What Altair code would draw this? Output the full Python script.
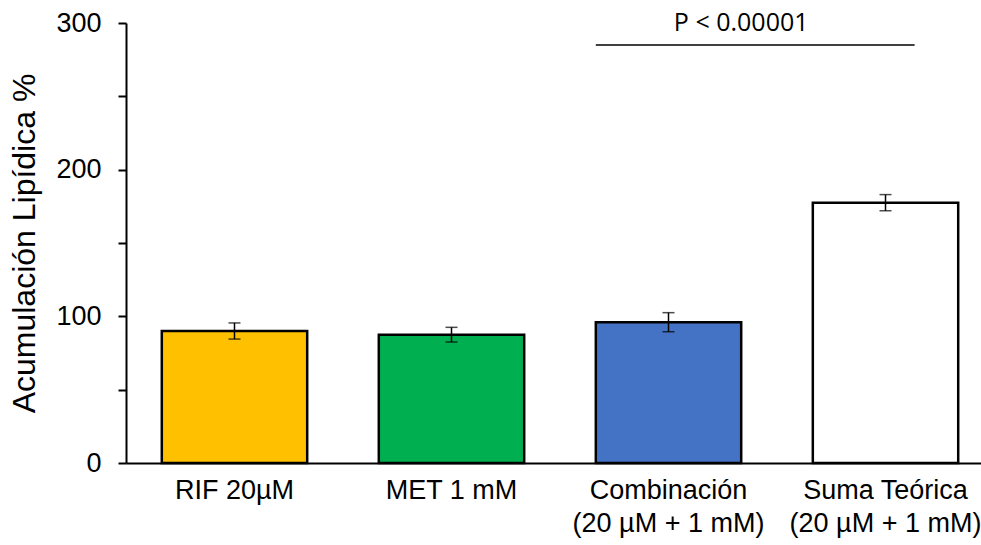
import altair as alt
import pandas as pd

# Treatment groups (label lines separated by "|")
categories = [
    "RIF 20µM",
    "MET 1 mM",
    "Combinación|(20 µM + 1 mM)",
    "Suma Teórica|(20 µM + 1 mM)",
]
means = [90, 87.5, 96, 177.5]
errors = [5.5, 5, 6.5, 5.5]
fills = ["#FFC000", "#00B050", "#4472C4", "#FFFFFF"]

# Significance bracket between the combination and the theoretical sum
sig_from = categories[2]
sig_to = categories[3]
sig_level = 285
sig_text = "P < 0.00001"

df = pd.DataFrame({
    "grupo": categories,
    "media": means,
    "lo": [m - e for m, e in zip(means, errors)],
    "hi": [m + e for m, e in zip(means, errors)],
    "color": fills,
})
sig_df = pd.DataFrame({"a": [sig_from], "b": [sig_to], "y": [sig_level], "t": [sig_text]})

x_scale = alt.Scale(domain=categories, paddingInner=0.33, paddingOuter=0.135, align=0.611)
y_scale = alt.Scale(domain=[0, 300], nice=False)

x_enc = alt.X(
    "grupo:N",
    scale=x_scale,
    sort=categories,
    axis=alt.Axis(
        title=None,
        labelAngle=0,
        labelExpr="split(datum.label, '|')",
        labelFont="Liberation Sans",
        labelFontSize=27,
        labelColor="#000000",
        labelLineHeight=33,
        labelPadding=14,
        labelLimit=400,
        ticks=False,
        domainColor="#000000",
        domainWidth=2,
    ),
)

bars = alt.Chart(df).mark_bar(stroke="#000000", strokeWidth=2.5).encode(
    x=x_enc,
    y=alt.Y(
        "media:Q",
        scale=y_scale,
        axis=alt.Axis(
            title="Acumulación Lipídica %",
            titleFont="Liberation Sans",
            titleFontSize=32,
            titleFontWeight="normal",
            titleColor="#000000",
            titlePadding=14,
            values=[0, 50, 100, 150, 200, 250, 300],
            labelExpr="datum.value % 100 == 0 ? datum.label : ''",
            labelFont="Liberation Sans",
            labelFontSize=27,
            labelColor="#000000",
            labelPadding=17,
            tickSize=8,
            tickWidth=2,
            tickColor="#000000",
            domainColor="#000000",
            domainWidth=2,
            grid=False,
        ),
    ),
    fill=alt.Fill("color:N", scale=None),
)

err_rule = alt.Chart(df).mark_rule(color="#000000", strokeWidth=1.5).encode(
    x=alt.X("grupo:N", scale=x_scale, sort=categories),
    y=alt.Y("lo:Q", scale=y_scale),
    y2="hi:Q",
)
err_caps_lo = alt.Chart(df).mark_tick(color="#000000", size=12, thickness=1.5).encode(
    x=alt.X("grupo:N", scale=x_scale, sort=categories),
    y=alt.Y("lo:Q", scale=y_scale),
)
err_caps_hi = alt.Chart(df).mark_tick(color="#000000", size=12, thickness=1.5).encode(
    x=alt.X("grupo:N", scale=x_scale, sort=categories),
    y=alt.Y("hi:Q", scale=y_scale),
)

sig_line = alt.Chart(sig_df).mark_rule(color="#000000", strokeWidth=1.3).encode(
    x=alt.X("a:N", scale=x_scale, bandPosition=0),
    x2=alt.X2("b:N", bandPosition=0.70),
    y=alt.Y("y:Q", scale=y_scale),
)
sig_label = alt.Chart(sig_df).mark_text(
    font="Open Sans", fontSize=25, color="#000000", baseline="alphabetic", dy=-14
).encode(
    x=alt.X("a:N", scale=x_scale, bandPosition=1.0),
    y=alt.Y("y:Q", scale=y_scale),
    text="t:N",
)

chart = (
    alt.layer(bars, err_rule, err_caps_lo, err_caps_hi, sig_line, sig_label)
    .properties(
        width=855,
        height=440,
        autosize=alt.AutoSizeParams(type="none"),
        padding={"left": 126, "top": 23, "right": 0, "bottom": 82},
        background="#FFFFFF",
    )
    .configure_view(stroke=None)
)

chart.save("out.html", embed_options={"renderer": "svg", "actions": False})
